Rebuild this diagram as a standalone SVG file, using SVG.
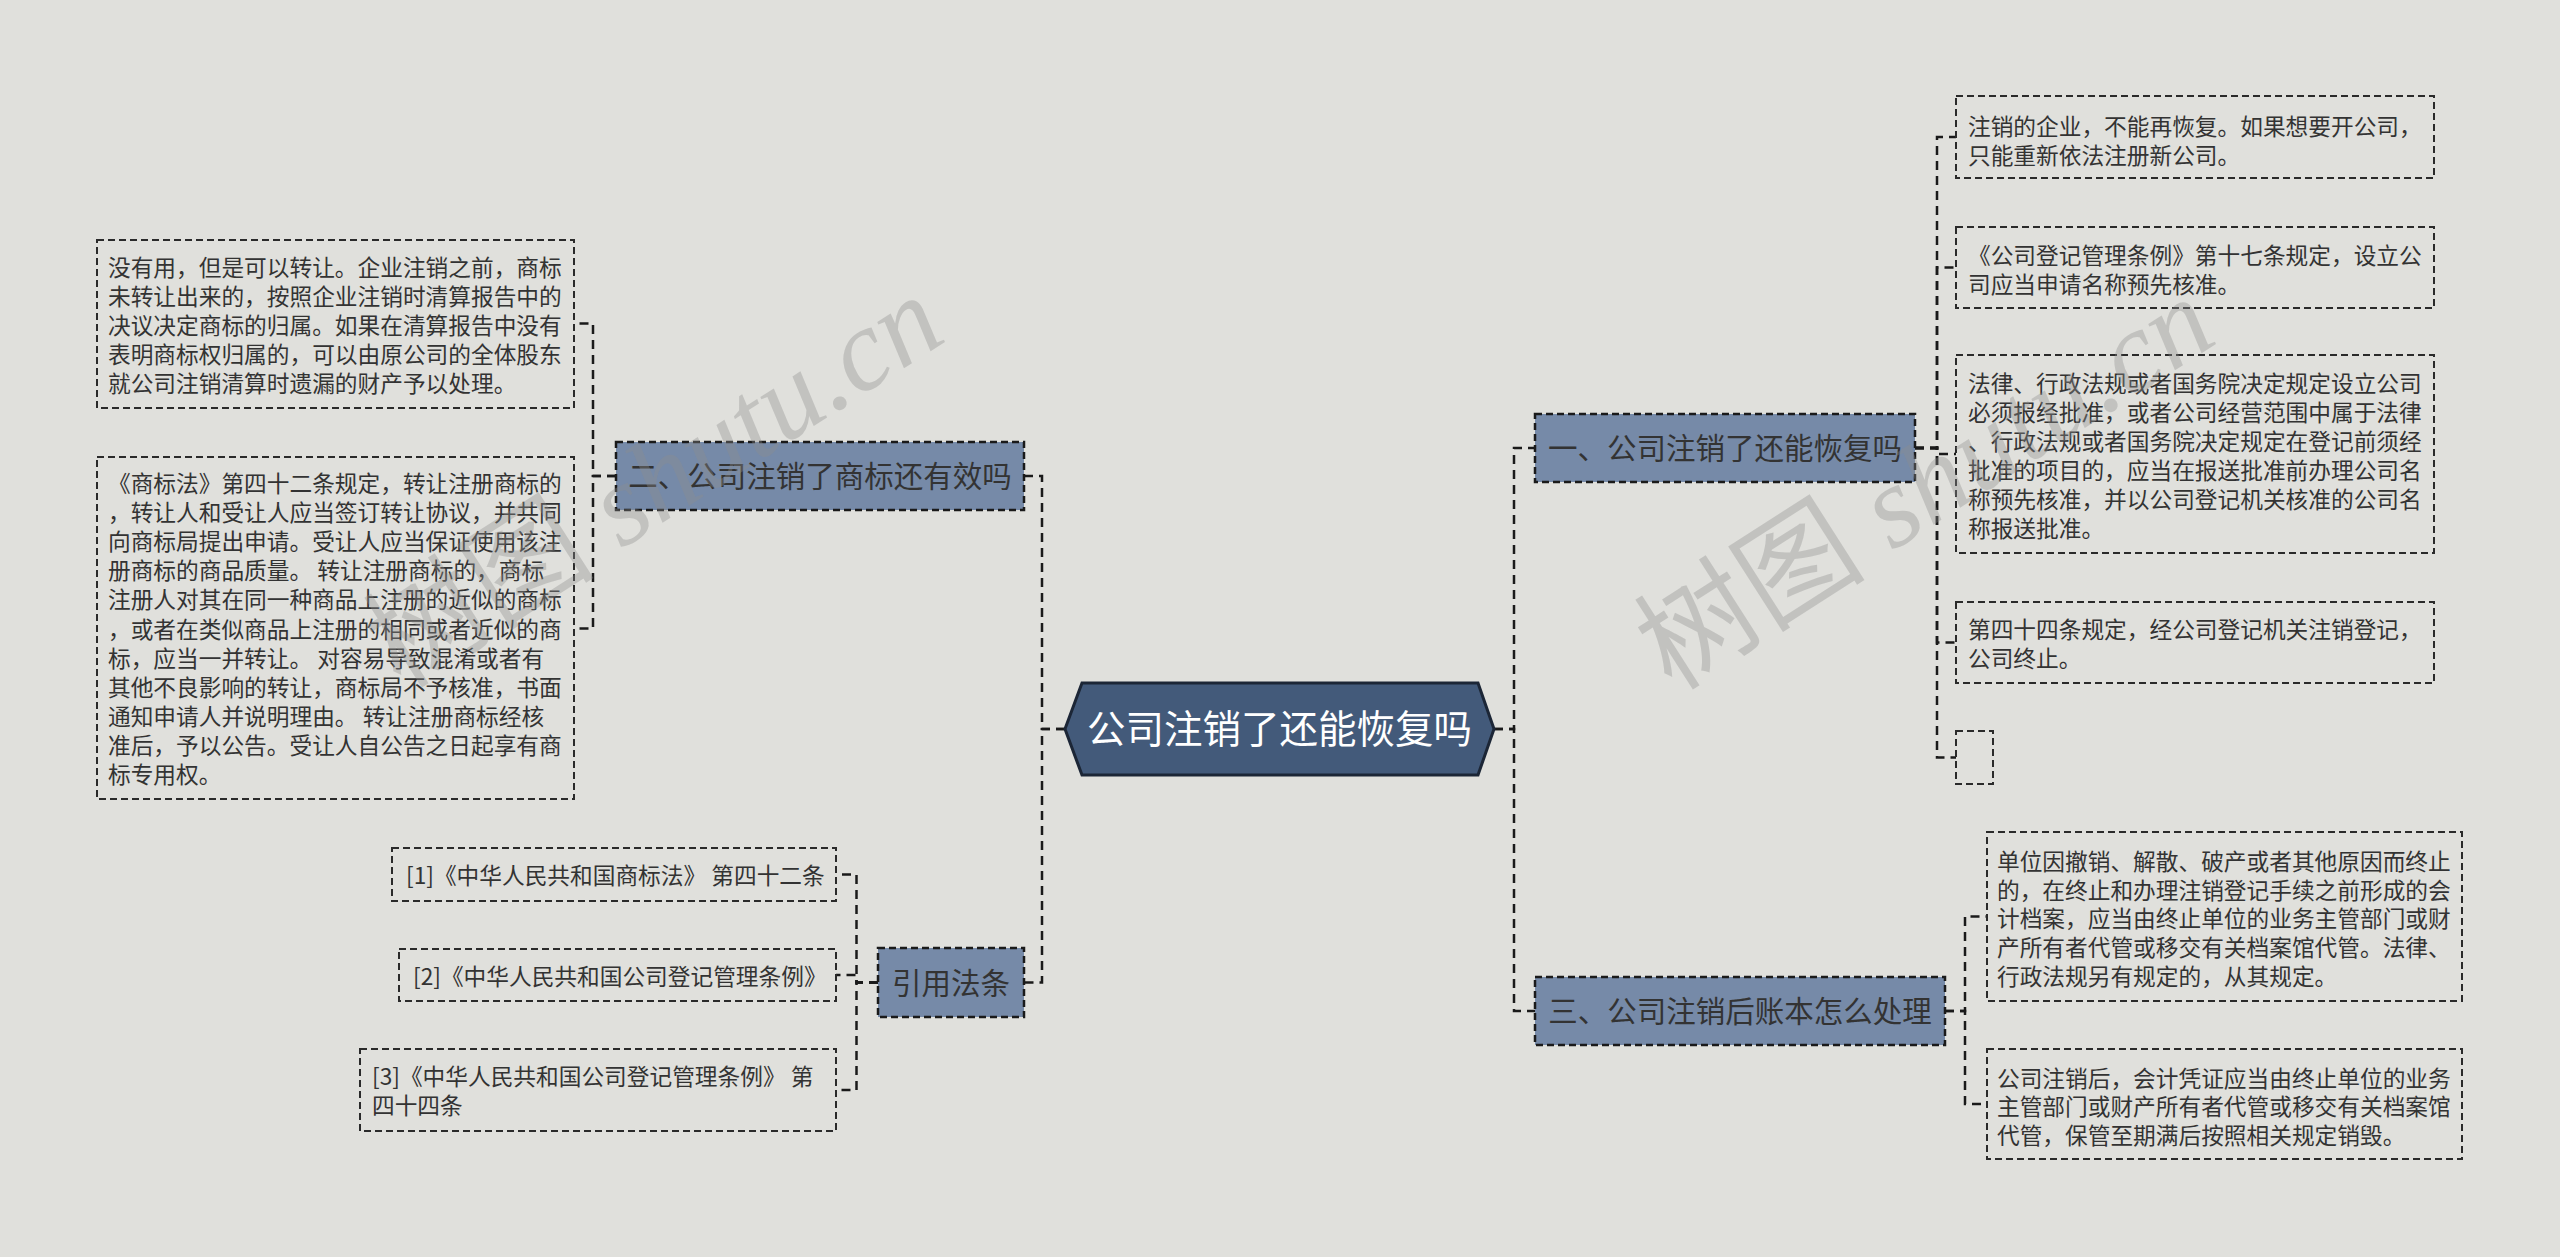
<svg xmlns="http://www.w3.org/2000/svg" width="2560" height="1257" viewBox="0 0 2560 1257">
<style>
.bg{fill:#e0e0dc}
.conn path{fill:none;stroke:#1a1a1a;stroke-width:2.5;stroke-dasharray:9 6}
.leaf rect{fill:none;stroke:#2a2a2a;stroke-width:2;stroke-dasharray:7 4}
.l1 rect{fill:#768aa8;stroke:#1a1a1a;stroke-width:2.5;stroke-dasharray:7 4}
.t{font-family:"Noto Sans CJK SC","Microsoft YaHei",sans-serif;fill:#333}
.tl{font-size:22.7px}
.t1{font-size:29.5px;text-anchor:middle}
.tc{font-family:"Noto Sans CJK SC",sans-serif;font-size:38.5px;fill:#ffffff;text-anchor:middle}
.wm{font-size:116px;fill:#8c8c8c;fill-opacity:0.36}
.wmc{font-family:"Noto Sans CJK SC",sans-serif}
.wml{font-family:"Liberation Serif",serif;font-style:italic}
</style>
<rect class="bg" x="0" y="0" width="2560" height="1257"/>

<g id="connectors" class="conn">
<path d="M1065,729 H1042 V476 H1024"/>
<path d="M1065,729 H1042 V982.5 H1024"/>
<path d="M1494,729 H1514 V448 H1535"/>
<path d="M1494,729 H1514 V1011 H1535"/>
<path d="M1915,448 H1937 V137 H1956"/>
<path d="M1915,448 H1937 V267.5 H1956"/>
<path d="M1915,448 H1937 V454 H1956"/>
<path d="M1915,448 H1937 V642.5 H1956"/>
<path d="M1915,448 H1937 V757.5 H1956"/>
<path d="M1945,1011 H1965 V916.5 H1987"/>
<path d="M1945,1011 H1965 V1104 H1987"/>
<path d="M616,476 H593 V323.5 H574"/>
<path d="M616,476 H593 V628.5 H574"/>
<path d="M878,982.5 H856.5 V874.5 H836"/>
<path d="M878,982.5 H856.5 V975 H836"/>
<path d="M878,982.5 H856.5 V1090 H836"/>
</g>

<g id="root">
<polygon points="1065,729 1082,683 1478,683 1494,729 1478,775 1082,775" fill="#435a7a" stroke="#1c2636" stroke-width="3"/>
<text class="tc" x="1279.5" y="743">公司注销了还能恢复吗</text>
</g>

<g id="n1" class="l1">
<rect x="1535" y="414" width="380" height="68"/>
<text class="t t1" x="1725" y="459">一、公司注销了还能恢复吗</text>
</g>
<g id="n2" class="l1">
<rect x="616" y="442" width="408" height="68"/>
<text class="t t1" x="820" y="487">二、公司注销了商标还有效吗</text>
</g>
<g id="n3" class="l1">
<rect x="1535" y="977" width="410" height="68"/>
<text class="t t1" x="1740" y="1022">三、公司注销后账本怎么处理</text>
</g>
<g id="n4" class="l1">
<rect x="878" y="948" width="146" height="69"/>
<text class="t t1" x="951" y="993.5">引用法条</text>
</g>

<g id="r1" class="leaf">
<rect x="1956" y="96" width="478" height="82"/>
<text class="t tl"><tspan x="1968" y="135">注销的企业，不能再恢复。如果想要开公司，</tspan><tspan x="1968" y="164">只能重新依法注册新公司。</tspan></text>
</g>
<g id="r2" class="leaf">
<rect x="1956" y="227" width="478" height="81"/>
<text class="t tl"><tspan x="1968" y="264">《公司登记管理条例》第十七条规定，设立公</tspan><tspan x="1968" y="293">司应当申请名称预先核准。</tspan></text>
</g>
<g id="r3" class="leaf">
<rect x="1956" y="355" width="478" height="198"/>
<text class="t tl"><tspan x="1968" y="392">法律、行政法规或者国务院决定规定设立公司</tspan><tspan x="1968" y="421">必须报经批准，或者公司经营范围中属于法律</tspan><tspan x="1968" y="450">、行政法规或者国务院决定规定在登记前须经</tspan><tspan x="1968" y="479">批准的项目的，应当在报送批准前办理公司名</tspan><tspan x="1968" y="508">称预先核准，并以公司登记机关核准的公司名</tspan><tspan x="1968" y="537">称报送批准。</tspan></text>
</g>
<g id="r4" class="leaf">
<rect x="1956" y="602" width="478" height="81"/>
<text class="t tl"><tspan x="1968" y="638">第四十四条规定，经公司登记机关注销登记，</tspan><tspan x="1968" y="667">公司终止。</tspan></text>
</g>
<g id="r5" class="leaf">
<rect x="1956" y="731" width="37" height="53"/>
</g>
<g id="r6" class="leaf">
<rect x="1987" y="832" width="475" height="169"/>
<text class="t tl"><tspan x="1997" y="870">单位因撤销、解散、破产或者其他原因而终止</tspan><tspan x="1997" y="899">的，在终止和办理注销登记手续之前形成的会</tspan><tspan x="1997" y="927">计档案，应当由终止单位的业务主管部门或财</tspan><tspan x="1997" y="956">产所有者代管或移交有关档案馆代管。法律、</tspan><tspan x="1997" y="985">行政法规另有规定的，从其规定。</tspan></text>
</g>
<g id="r7" class="leaf">
<rect x="1987" y="1049" width="475" height="110"/>
<text class="t tl"><tspan x="1997" y="1087">公司注销后，会计凭证应当由终止单位的业务</tspan><tspan x="1997" y="1115">主管部门或财产所有者代管或移交有关档案馆</tspan><tspan x="1997" y="1144">代管，保管至期满后按照相关规定销毁。</tspan></text>
</g>

<g id="l1" class="leaf">
<rect x="97" y="240" width="477" height="168"/>
<text class="t tl"><tspan x="108" y="276">没有用，但是可以转让。企业注销之前，商标</tspan><tspan x="108" y="305">未转让出来的，按照企业注销时清算报告中的</tspan><tspan x="108" y="334">决议决定商标的归属。如果在清算报告中没有</tspan><tspan x="108" y="363">表明商标权归属的，可以由原公司的全体股东</tspan><tspan x="108" y="392">就公司注销清算时遗漏的财产予以处理。</tspan></text>
</g>
<g id="l2" class="leaf">
<rect x="97" y="457" width="477" height="342"/>
<text class="t tl"><tspan x="108" y="492">《商标法》第四十二条规定，转让注册商标的</tspan><tspan x="108" y="521">，转让人和受让人应当签订转让协议，并共同</tspan><tspan x="108" y="550">向商标局提出申请。受让人应当保证使用该注</tspan><tspan x="108" y="579">册商标的商品质量。 转让注册商标的，商标</tspan><tspan x="108" y="608">注册人对其在同一种商品上注册的近似的商标</tspan><tspan x="108" y="638">，或者在类似商品上注册的相同或者近似的商</tspan><tspan x="108" y="667">标，应当一并转让。 对容易导致混淆或者有</tspan><tspan x="108" y="696">其他不良影响的转让，商标局不予核准，书面</tspan><tspan x="108" y="725">通知申请人并说明理由。 转让注册商标经核</tspan><tspan x="108" y="754">准后，予以公告。受让人自公告之日起享有商</tspan><tspan x="108" y="783">标专用权。</tspan></text>
</g>

<g id="c1" class="leaf">
<rect x="392" y="848" width="444" height="53"/>
<text class="t tl" x="406" y="884">[1]《中华人民共和国商标法》 第四十二条</text>
</g>
<g id="c2" class="leaf">
<rect x="399" y="949" width="437" height="52"/>
<text class="t tl" x="413" y="985">[2]《中华人民共和国公司登记管理条例》</text>
</g>
<g id="c3" class="leaf">
<rect x="360" y="1049" width="476" height="82"/>
<text class="t tl"><tspan x="372" y="1085">[3]《中华人民共和国公司登记管理条例》 第</tspan><tspan x="372" y="1114">四十四条</tspan></text>
</g>

<g id="watermark">
<text class="wm" transform="translate(1672,692) rotate(-32.6)"><tspan class="wmc">树图</tspan><tspan class="wml"> shutu.cn</tspan></text>
<text class="wm" transform="translate(401,690) rotate(-32.6)"><tspan class="wmc">树图</tspan><tspan class="wml"> shutu.cn</tspan></text>
</g>
</svg>
